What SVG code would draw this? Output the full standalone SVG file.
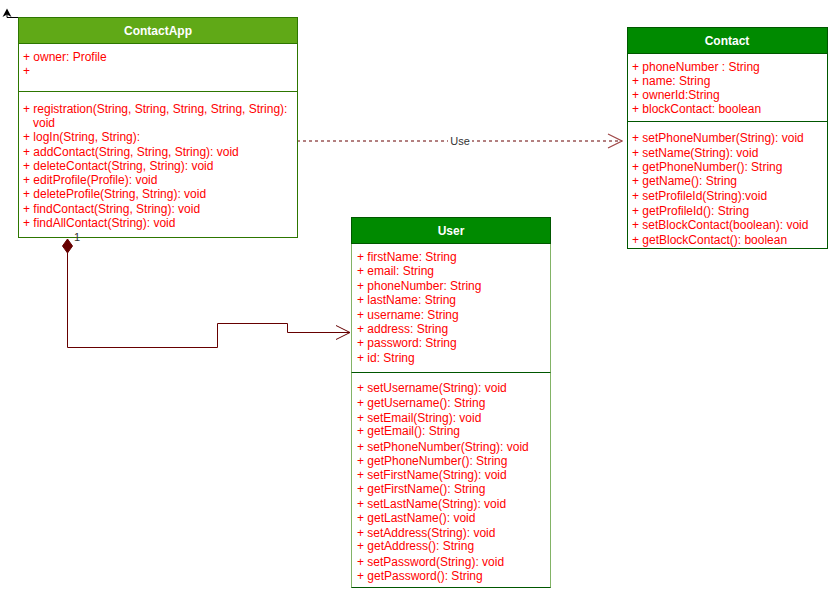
<svg xmlns="http://www.w3.org/2000/svg" width="828" height="591" viewBox="0 0 828 591">
<defs>
<style>
.t{font-family:"Liberation Sans",Arial,sans-serif;font-size:12px;fill:#FF0000}
.h{font-family:"Liberation Sans",Arial,sans-serif;font-size:12px;font-weight:bold;fill:#FFFFFF;text-anchor:middle}
.lbl{font-family:"Liberation Sans",Arial,sans-serif;font-size:11px;fill:#333333}
.body{fill:#FFFFFF}
.conn{fill:none;stroke:#660000;stroke-width:1}
</style>
<marker id="open" viewBox="0 0 16 16" refX="15" refY="8" markerWidth="16" markerHeight="16" markerUnits="userSpaceOnUse" orient="auto">
<path d="M1,1 L15,8 L1,15" fill="none" stroke="#660000" stroke-width="1"/>
</marker>
<marker id="openUse" viewBox="0 0 16 16" refX="15" refY="8" markerWidth="16" markerHeight="16" markerUnits="userSpaceOnUse" orient="auto">
<path d="M1,1 L15,8 L1,15" fill="none" stroke="#a04848" stroke-width="1.2"/>
</marker>
</defs>

<g id="connectors">
<path d="M18,17.5 H7 V12" fill="none" stroke="#000000" stroke-width="1"/>
<path d="M2.5,17 L7,8.5 L11.5,17 L7,14.5 Z" fill="#000000"/>
<path class="conn" d="M297,141 H622" stroke-dasharray="3 3" stroke="#8a2a2a" marker-end="url(#openUse)"/>
<rect x="448" y="134" width="24" height="13" fill="#FFFFFF"/>
<text class="lbl" x="460" y="145" text-anchor="middle">Use</text>
<path class="conn" d="M67.5,253 V347.5 H217.5 V323.5 H287.5 V332.5 H350" marker-end="url(#open)"/>
<path d="M67.5,239 L72.5,246 L67.5,253 L62.5,246 Z" fill="#660000" stroke="#660000"/>
</g>

<g id="ContactApp">
<rect x="18.5" y="17.5" width="279" height="220" class="body" stroke="#2D7600"/>
<rect x="18.5" y="17.5" width="279" height="26" fill="#60A917" stroke="#2D7600"/>
<line x1="18.5" y1="91.5" x2="297.5" y2="91.5" stroke="#2D7600"/>
<text class="h" x="158" y="35">ContactApp</text>
<text class="t" x="23" y="61">+ owner: Profile</text>
<text class="t" x="23" y="75">+</text>
<text class="t" x="23" y="113">+ registration(String, String, String, String, String):</text>
<text class="t" x="33" y="127">void</text>
<text class="t" x="23" y="141">+ logIn(String, String):</text>
<text class="t" x="23" y="156">+ addContact(String, String, String): void</text>
<text class="t" x="23" y="170">+ deleteContact(String, String): void</text>
<text class="t" x="23" y="184">+ editProfile(Profile): void</text>
<text class="t" x="23" y="198">+ deleteProfile(String, String): void</text>
<text class="t" x="23" y="213">+ findContact(String, String): void</text>
<text class="t" x="23" y="227">+ findAllContact(String): void</text>
</g>
<text class="lbl" x="74" y="241">1</text>

<g id="Contact">
<rect x="627.5" y="27.5" width="200" height="221" class="body" stroke="#005700"/>
<rect x="627.5" y="27.5" width="200" height="26" fill="#008A00" stroke="#005700"/>
<line x1="627.5" y1="121.5" x2="827.5" y2="121.5" stroke="#005700"/>
<text class="h" x="727" y="45">Contact</text>
<text class="t" x="632" y="71">+ phoneNumber : String</text>
<text class="t" x="632" y="85">+ name: String</text>
<text class="t" x="632" y="99">+ ownerId:String</text>
<text class="t" x="632" y="113">+ blockContact: boolean</text>
<text class="t" x="632" y="142">+ setPhoneNumber(String): void</text>
<text class="t" x="632" y="157">+ setName(String): void</text>
<text class="t" x="632" y="171">+ getPhoneNumber(): String</text>
<text class="t" x="632" y="185">+ getName(): String</text>
<text class="t" x="632" y="200">+ setProfileId(String):void</text>
<text class="t" x="632" y="215">+ getProfileId(): String</text>
<text class="t" x="632" y="229">+ setBlockContact(boolean): void</text>
<text class="t" x="632" y="244">+ getBlockContact(): boolean</text>
</g>

<g id="User">
<rect x="351.5" y="217.5" width="199" height="370" class="body" stroke="#82B366"/>
<line x1="351.5" y1="587.5" x2="550.5" y2="587.5" stroke="#005700"/>
<rect x="351.5" y="217.5" width="199" height="26" fill="#008A00" stroke="#005700"/>
<line x1="351.5" y1="372.5" x2="550.5" y2="372.5" stroke="#005700"/>
<text class="h" x="451" y="235">User</text>
<text class="t" x="357" y="261">+ firstName: String</text>
<text class="t" x="357" y="275">+ email: String</text>
<text class="t" x="357" y="290">+ phoneNumber: String</text>
<text class="t" x="357" y="304">+ lastName: String</text>
<text class="t" x="357" y="319">+ username: String</text>
<text class="t" x="357" y="333">+ address: String</text>
<text class="t" x="357" y="347">+ password: String</text>
<text class="t" x="357" y="362">+ id: String</text>
<text class="t" x="357" y="392">+ setUsername(String): void</text>
<text class="t" x="357" y="407">+ getUsername(): String</text>
<text class="t" x="357" y="422">+ setEmail(String): void</text>
<text class="t" x="357" y="435">+ getEmail(): String</text>
<text class="t" x="357" y="451">+ setPhoneNumber(String): void</text>
<text class="t" x="357" y="465">+ getPhoneNumber(): String</text>
<text class="t" x="357" y="479">+ setFirstName(String): void</text>
<text class="t" x="357" y="493">+ getFirstName(): String</text>
<text class="t" x="357" y="508">+ setLastName(String): void</text>
<text class="t" x="357" y="522">+ getLastName(): void</text>
<text class="t" x="357" y="537">+ setAddress(String): void</text>
<text class="t" x="357" y="550">+ getAddress(): String</text>
<text class="t" x="357" y="566">+ setPassword(String): void</text>
<text class="t" x="357" y="580">+ getPassword(): String</text>
</g>
</svg>
